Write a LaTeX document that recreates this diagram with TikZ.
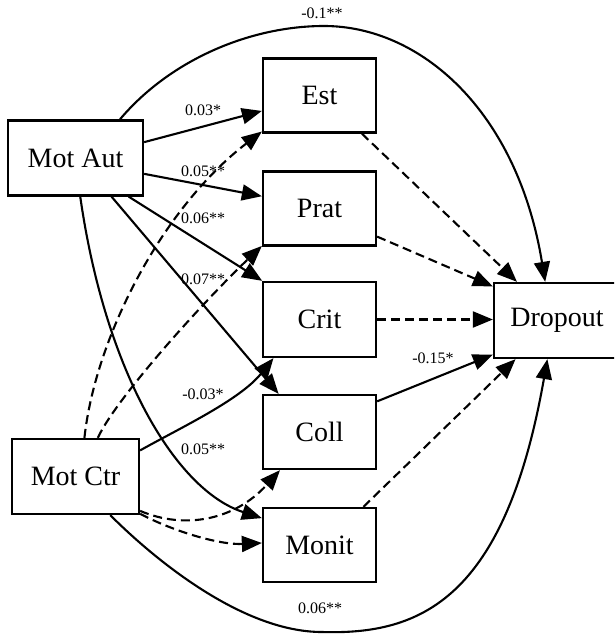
\documentclass[tikz,border=0pt]{standalone}
\usepackage{fontspec}
\setmainfont{Liberation Serif}
\usetikzlibrary{arrows.meta}
\begin{document}
\begin{tikzpicture}[x=1pt,y=-1pt,
  nbox/.style={draw,line width=2.3pt,minimum width=113pt,minimum height=74pt,inner sep=0pt,font=\fontsize{28}{30}\selectfont},
  lbl/.style={font=\fontsize{16}{18}\selectfont,inner sep=0pt},
  sline/.style={line width=2.1pt,-{Triangle[length=20pt,width=16pt]}},
  dline/.style={sline,dash pattern=on 9pt off 5pt}]
\clip (0,0) rectangle (614,636);
\fill[white] (0,0) rectangle (614,636);
% nodes
\node[nbox,minimum width=135pt,minimum height=75pt] (aut) at (75.5,158) {Mot Aut};
\node[nbox,minimum width=127pt,minimum height=75pt] (ctr) at (75.5,476.5) {Mot Ctr};
\node[nbox] (est) at (319.5,95.5) {Est};
\node[nbox] (prat) at (319.5,208.5) {Prat};
\node[nbox,minimum height=75pt] (crit) at (319.5,319.5) {Crit};
\node[nbox] (coll) at (319.5,432) {Coll};
\node[nbox] (monit) at (319.5,545) {Monit};
\node[nbox,minimum width=126pt,minimum height=75pt] (drop) at (557,320.5) {Dropout};
% Mot Aut edges
\draw[sline] (aut.13) -- (est.195);
\draw[sline] (aut.347.5) -- (prat.168.5);
\draw[sline] (aut.324.5) -- (crit.146);
\draw[sline] (aut.313.4) -- (coll.137);
\draw[sline] (aut.277) .. controls (105,370) and (175,490) .. (monit.155);
\draw[sline] (aut.41.4) .. controls (170,60) and (250,26) .. (324,26)
  .. controls (420,26) and (517,110) .. (drop.107.7);
% Mot Ctr edges
\draw[dline] (ctr.77) .. controls (95,340) and (160,210) .. (est.212);
\draw[dline] (ctr.60.2) .. controls (115,400) and (200,305) .. (prat.213);
\draw[sline] (ctr.22.6) .. controls (180,428) and (240,400) .. (crit.220);
\draw[dline] (ctr.-28) .. controls (185,530) and (235,520) .. (coll.224);
\draw[dline] (ctr.-30) .. controls (175,532) and (220,545) .. (monit.178);
\draw[sline] (ctr.312.6) .. controls (150,555) and (240,632) .. (322,632)
  .. controls (420,635) and (505,600) .. (drop.256.5);
% mediators to Dropout
\draw[dline] (est.318.3) -- (drop.136.8);
\draw[dline] (prat.334.9) -- (drop.152);
\draw[dline] (crit.east) -- (crit.east -| drop.west);
\draw[sline] (coll.28) -- (drop.208);
\draw[dline] (monit.41.7) -- (drop.223.2);
% labels
\node[lbl] (l1) at (322,13) {-0.1**};
\node[lbl] (l2) at (203,110) {0.03*};
\node[lbl] (l3) at (203,171) {0.05**};
\node[lbl] (l4) at (203,218) {0.06**};
\node[lbl] (l5) at (203,279) {0.07**};
\node[lbl] (l6) at (203,394) {-0.03*};
\node[lbl] (l7) at (203,449) {0.05**};
\node[lbl] (l8) at (433,358) {-0.15*};
\node[lbl] (l9) at (320,608) {0.06**};
\end{tikzpicture}
\end{document}
